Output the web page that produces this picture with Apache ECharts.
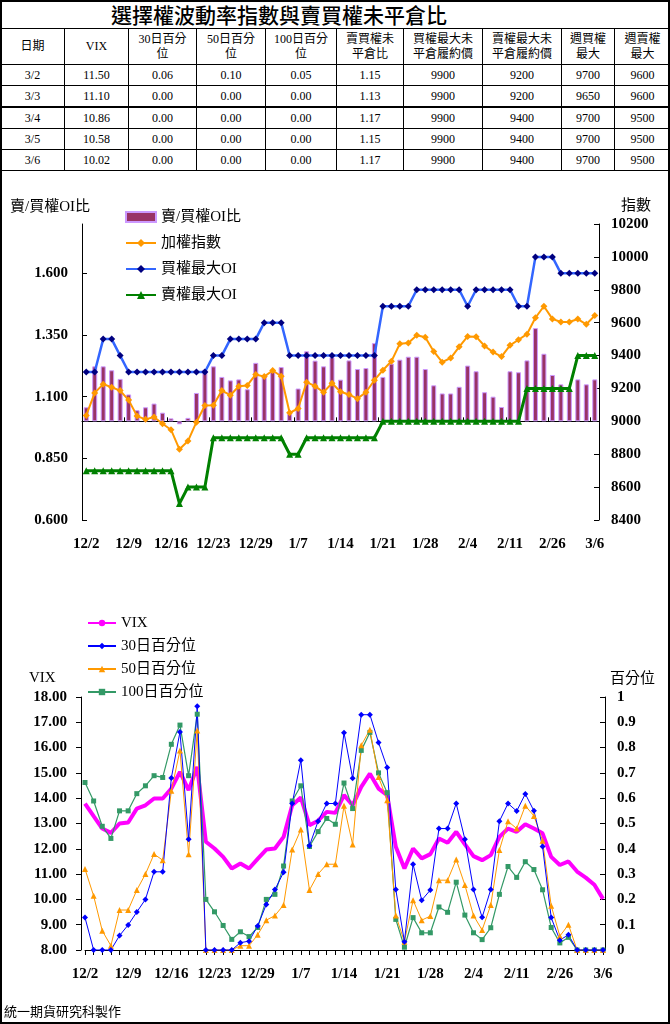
<!DOCTYPE html>
<html>
<head>
<meta charset="utf-8">
<script src="https://cdn.jsdelivr.net/npm/echarts@6/dist/echarts.min.js"></script>
<style>
html,body{margin:0;padding:0;background:#fff;}
#chart{position:absolute;left:0;top:0;width:670px;height:1024px;}
#frame{position:absolute;left:0;top:0;width:670px;height:1024px;box-sizing:border-box;border:2px solid #000;pointer-events:none;}
#tbl{position:absolute;left:0;top:0;width:670px;border-collapse:collapse;table-layout:fixed;font-family:'Liberation Serif','Noto Sans CJK TC',serif;font-size:12px;color:#000;background:#fff;}
#tbl td{border:1px solid #000;text-align:center;vertical-align:middle;padding:0;overflow:hidden;white-space:nowrap;}
#tbl tr.title td{height:27px;font-family:'Noto Sans CJK TC',sans-serif;font-size:21px;font-weight:500;text-align:left;padding-left:110px;line-height:27px;}
#tbl tr.head td{height:35px;line-height:15px;font-family:'Liberation Serif','Noto Sans CJK TC',serif;}
#tbl tr.row td{height:20px;line-height:20px;}
#tbl tr.thick td{border-top:2px solid #000;}
</style>
</head>
<body>
<div id="chart"></div>
<table id="tbl"></table>
<div id="frame"></div>
<script>
// ---------- table data ----------
const tblTitle = '選擇權波動率指數與賣買權未平倉比';
const tblHeaders = ['日期','VIX','30日百分<br>位','50日百分<br>位','100日百分<br>位','賣買權未<br>平倉比','買權最大未<br>平倉履約價','賣權最大未<br>平倉履約價','週買權<br>最大','週賣權<br>最大'];
const tblColWidths = [64,64,68,69,71,67,79,79,53,56];
const tblDates = ['3/2','3/3','3/4','3/5','3/6'];
const tblVix = [11.50,11.10,10.86,10.58,10.02];
const tbl30 = [0.06,0.00,0.00,0.00,0.00];
const tbl50 = [0.10,0.00,0.00,0.00,0.00];
const tbl100 = [0.05,0.00,0.00,0.00,0.00];
const tblRatio = [1.15,1.13,1.17,1.15,1.17];
const tblCallStrike = [9900,9900,9900,9900,9900];
const tblPutStrike = [9200,9200,9400,9400,9400];
const tblWeekCall = [9700,9650,9700,9700,9700];
const tblWeekPut = [9600,9600,9500,9500,9500];

// ---------- chart data ----------
const dates = ['12/2','12/3','12/4','12/5','12/8','12/9','12/10','12/11','12/12','12/15',
 '12/16','12/17','12/18','12/19','12/22','12/23','12/24','12/25','12/26','12/27',
 '12/29','12/30','12/31','1/5','1/6','1/7','1/8','1/9','1/12','1/13',
 '1/14','1/15','1/16','1/19','1/20','1/21','1/22','1/23','1/26','1/27',
 '1/28','1/29','1/30','2/2','2/3','2/4','2/5','2/6','2/9','2/10',
 '2/11','2/12','2/13','2/24','2/25','2/26','3/2','3/3','3/4','3/5','3/6'];

const oiRatio = [1.057,1.223,1.223,1.207,1.172,1.109,1.045,1.057,1.072,1.035,
 1.012,0.988,1.014,1.115,1.21,1.223,1.18,1.166,1.17,1.13,
 1.237,1.185,1.20,1.22,1.03,1.133,1.284,1.246,1.223,1.26,
 1.169,1.247,1.212,1.216,1.317,1.18,1.234,1.25,1.262,1.262,
 1.212,1.146,1.113,1.113,1.14,1.226,1.203,1.118,1.10,1.058,
 1.203,1.199,1.247,1.378,1.274,1.188,1.15,1.13,1.17,1.15,1.17];

const taiex = [9036,9173,9226,9207,9187,9129,9032,9012,9026,8985,
 8949,8830,8880,8995,9096,9098,9187,9159,9213,9218,
 9285,9272,9309,9274,9052,9078,9238,9214,9177,9232,
 9180,9163,9138,9177,9250,9311,9365,9472,9476,9523,
 9511,9425,9360,9385,9453,9516,9515,9458,9421,9394,
 9462,9496,9530,9630,9700,9623,9604,9604,9622,9590,9643];

const callMaxOI = [9300,9300,9500,9500,9400,9300,9300,9300,9300,9300,
 9300,9300,9300,9300,9300,9400,9400,9500,9500,9500,
 9500,9600,9600,9600,9400,9400,9400,9400,9400,9400,
 9400,9400,9400,9400,9400,9700,9700,9700,9700,9800,
 9800,9800,9800,9800,9800,9700,9800,9800,9800,9800,
 9800,9700,9700,10000,10000,10000,9900,9900,9900,9900,9900];

const putMaxOI = [8700,8700,8700,8700,8700,8700,8700,8700,8700,8700,
 8700,8500,8600,8600,8600,8900,8900,8900,8900,8900,
 8900,8900,8900,8900,8800,8800,8900,8900,8900,8900,
 8900,8900,8900,8900,8900,9000,9000,9000,9000,9000,
 9000,9000,9000,9000,9000,9000,9000,9000,9000,9000,
 9000,9000,9200,9200,9200,9200,9200,9200,9400,9400,9400];

const vix = [13.79,13.29,12.80,12.63,13.00,13.04,13.59,13.72,13.99,13.99,
 14.38,15.04,14.32,15.24,12.28,12.01,11.68,11.22,11.42,11.22,
 11.60,11.97,12.01,12.47,13.72,14.03,12.93,13.11,13.46,13.42,
 14.12,13.72,14.45,14.97,14.38,14.12,12.08,11.22,12.01,11.62,
 11.79,12.41,12.24,12.67,12.18,11.71,11.55,11.75,12.47,12.80,
 12.67,12.97,12.80,12.61,11.68,11.36,11.50,11.10,10.86,10.58,10.02];

const pct30 = [0.128,0,0,0,0.057,0.099,0.15,0.2,0.309,0.309,
 0.68,0.862,0.438,0.963,0,0,0,0,0.029,0.035,
 0.095,0.18,0.239,0.307,0.579,0.75,0.412,0.509,0.579,0.579,
 0.859,0.679,0.93,0.93,0.82,0.721,0.239,0.033,0.339,0.197,
 0.237,0.48,0.48,0.579,0.438,0.239,0.129,0.239,0.509,0.579,
 0.549,0.617,0.55,0.409,0.128,0.039,0.06,0,0,0,0];

const pct50 = [0.32,0.214,0.076,0.017,0.158,0.158,0.237,0.3,0.379,0.355,
 0.629,0.789,0.378,0.868,0,0,0,0,0.017,0.017,
 0.06,0.118,0.136,0.178,0.397,0.476,0.237,0.3,0.339,0.339,
 0.57,0.417,0.809,0.871,0.684,0.592,0.136,0.033,0.197,0.118,
 0.134,0.276,0.276,0.358,0.257,0.136,0.079,0.178,0.395,0.509,
 0.48,0.57,0.53,0.432,0.175,0.055,0.10,0,0,0,0];

const pct100 = [0.662,0.589,0.489,0.441,0.55,0.55,0.618,0.649,0.689,0.682,
 0.813,0.889,0.689,0.932,0.2,0.151,0.097,0.042,0.072,0.053,
 0.089,0.2,0.22,0.332,0.589,0.649,0.409,0.468,0.52,0.497,
 0.66,0.559,0.789,0.86,0.7,0.622,0.121,0.011,0.128,0.068,
 0.068,0.17,0.149,0.268,0.138,0.068,0.041,0.088,0.22,0.33,
 0.287,0.349,0.318,0.238,0.089,0.028,0.05,0,0,0,0];

const oiTicks = [0.6,0.85,1.1,1.35,1.6];

// ---------- build table ----------
(function(){
  const t = document.getElementById('tbl');
  let h = '<colgroup>' + tblColWidths.map(w => '<col style="width:'+w+'px">').join('') + '</colgroup>';
  h += '<tr class="title"><td colspan="10">'+tblTitle+'</td></tr>';
  h += '<tr class="head">' + tblHeaders.map(s => '<td>'+s+'</td>').join('') + '</tr>';
  for (let i = 0; i < tblDates.length; i++) {
    const cells = [tblDates[i], tblVix[i].toFixed(2), tbl30[i].toFixed(2), tbl50[i].toFixed(2), tbl100[i].toFixed(2),
      tblRatio[i].toFixed(2), tblCallStrike[i], tblPutStrike[i], tblWeekCall[i], tblWeekPut[i]];
    h += '<tr class="row' + (i === 2 ? ' thick' : '') + '">' + cells.map(c => '<td>'+c+'</td>').join('') + '</tr>';
  }
  t.innerHTML = h;
})();

// ---------- chart ----------
const FONT = "'Liberation Serif','Noto Sans CJK TC',serif";
const axisLbl = {color:'#000', fontFamily:FONT, fontSize:15, fontWeight:'bold'};
const blk = {color:'#000', width:1};

const chart = echarts.init(document.getElementById('chart'), null, {renderer:'canvas'});
const option = {
  animation: false,
  backgroundColor: 'transparent',
  title: [
    {text:'賣/買權OI比', left:10, top:200, padding:0, textStyle:{fontFamily:FONT, fontSize:15, fontWeight:'normal', color:'#000'}},
    {text:'指數', left:621, top:199, padding:0, textStyle:{fontFamily:FONT, fontSize:15, fontWeight:'normal', color:'#000'}},
    {text:'VIX', left:29, top:671, padding:0, textStyle:{fontFamily:FONT, fontSize:15, fontWeight:'normal', color:'#000'}},
    {text:'百分位', left:610, top:672, padding:0, textStyle:{fontFamily:FONT, fontSize:15, fontWeight:'normal', color:'#000'}},
    {text:'統一期貨研究科製作', left:4, top:1005, padding:0, textStyle:{fontFamily:"'Noto Sans CJK TC',sans-serif", fontSize:13, fontWeight:'normal', color:'#000'}}
  ],
  legend: [
    {
      orient:'vertical', left:120, top:204, itemWidth:30, itemHeight:10, itemGap:10,
      textStyle:{fontFamily:FONT, fontSize:15, color:'#000', lineHeight:16},
      data:[{name:'賣/買權OI比', icon:'rect'}, '加權指數', '買權最大OI', '賣權最大OI']
    },
    {
      orient:'vertical', left:82, top:610, itemWidth:28, itemHeight:8, itemGap:7,
      textStyle:{fontFamily:FONT, fontSize:15, color:'#000', lineHeight:16},
      data:['VIX','30日百分位','50日百分位','100日百分位']
    }
  ],
  grid: [
    {left:82, right:71, top:224, height:296, containLabel:false},
    {left:85, right:67, top:697, height:253, containLabel:false}
  ],
  xAxis: [
    {gridIndex:0, type:'category', data:dates, boundaryGap:true,
     axisLine:{show:true, onZero:true, onZeroAxisIndex:2, lineStyle:blk},
     axisTick:{show:true, inside:true, length:4, lineStyle:blk},
     axisLabel:{show:false}, splitLine:{show:false}},
    {gridIndex:0, type:'category', data:dates, boundaryGap:true, position:'bottom',
     axisLine:{show:false, onZero:false}, axisTick:{show:false},
     axisLabel:Object.assign({interval:4, margin:17}, axisLbl), splitLine:{show:false}},
    {gridIndex:1, type:'category', data:dates, boundaryGap:false, position:'bottom',
     axisLine:{show:true, onZero:false, lineStyle:blk},
     axisTick:{show:true, interval:0, length:5, lineStyle:blk},
     axisLabel:Object.assign({interval:4, margin:17}, axisLbl), splitLine:{show:false}}
  ],
  yAxis: [
    {gridIndex:0, type:'value', position:'left', min:0.6, max:1.8,
     axisLine:{show:true, lineStyle:blk},
     axisTick:{show:true, inside:true, length:5, lineStyle:blk, customValues:oiTicks},
     axisLabel:Object.assign({margin:14, customValues:oiTicks, formatter:v => v.toFixed(3)}, axisLbl),
     splitLine:{show:false}},
    {gridIndex:0, type:'value', position:'right', min:8400, max:10200, interval:200,
     axisLine:{show:true, lineStyle:blk},
     axisTick:{show:true, inside:true, length:5, lineStyle:blk},
     axisLabel:Object.assign({margin:12, formatter:v => String(v)}, axisLbl), splitLine:{show:false}},
    {gridIndex:0, type:'value', min:-0.4, max:0.8, show:false, splitLine:{show:false}},
    {gridIndex:1, type:'value', position:'left', min:8, max:18, interval:1, offset:4,
     axisLine:{show:true, lineStyle:blk},
     axisTick:{show:true, length:5, lineStyle:blk},
     axisLabel:Object.assign({margin:14, formatter:v => v.toFixed(2)}, axisLbl), splitLine:{show:false}},
    {gridIndex:1, type:'value', position:'right', min:0, max:1, interval:0.1, offset:2,
     axisLine:{show:true, lineStyle:blk},
     axisTick:{show:true, inside:true, length:5, lineStyle:blk},
     axisLabel:Object.assign({margin:12, formatter:v => String(+v.toFixed(1))}, axisLbl), splitLine:{show:false}}
  ],
  series: [
    {name:'base', type:'bar', xAxisIndex:0, yAxisIndex:0, stack:'oi', barWidth:5, silent:true,
     itemStyle:{color:'rgba(0,0,0,0)'}, data:oiRatio.map(v => Math.min(v,1))},
    {name:'賣/買權OI比', type:'bar', xAxisIndex:0, yAxisIndex:0, stack:'oi', barWidth:5,
     itemStyle:{color:'#993366', borderColor:'#CC99FF', borderWidth:1},
     data:oiRatio.map(v => +Math.abs(v-1).toFixed(4))},
    {name:'賣權最大OI', type:'line', xAxisIndex:0, yAxisIndex:1, data:putMaxOI, showAllSymbol:true,
     symbol:'triangle', symbolSize:7, lineStyle:{color:'#008000', width:3},
     itemStyle:{color:'#008000'}},
    {name:'加權指數', type:'line', xAxisIndex:0, yAxisIndex:1, data:taiex, showAllSymbol:true,
     symbol:'diamond', symbolSize:7, lineStyle:{color:'#FF9900', width:2},
     itemStyle:{color:'#FF9900'}},
    {name:'買權最大OI', type:'line', xAxisIndex:0, yAxisIndex:1, data:callMaxOI, showAllSymbol:true,
     symbol:'diamond', symbolSize:7, lineStyle:{color:'#3366FF', width:2.5},
     itemStyle:{color:'#000080'}},
    {name:'VIX', type:'line', xAxisIndex:2, yAxisIndex:3, data:vix,
     symbol:'none', lineStyle:{color:'#FF00FF', width:4}, itemStyle:{color:'#FF00FF'}},
    {name:'100日百分位', type:'line', xAxisIndex:2, yAxisIndex:4, data:pct100, showAllSymbol:true,
     symbol:'rect', symbolSize:5, lineStyle:{color:'#339966', width:1.2}, itemStyle:{color:'#339966'}},
    {name:'50日百分位', type:'line', xAxisIndex:2, yAxisIndex:4, data:pct50, showAllSymbol:true,
     symbol:'triangle', symbolSize:6, lineStyle:{color:'#FF9900', width:1}, itemStyle:{color:'#FF9900'}},
    {name:'30日百分位', type:'line', xAxisIndex:2, yAxisIndex:4, data:pct30, showAllSymbol:true,
     symbol:'diamond', symbolSize:6, lineStyle:{color:'#0000FF', width:1}, itemStyle:{color:'#0000FF'}}
  ]
};
chart.setOption(option);
</script>
</body>
</html>
